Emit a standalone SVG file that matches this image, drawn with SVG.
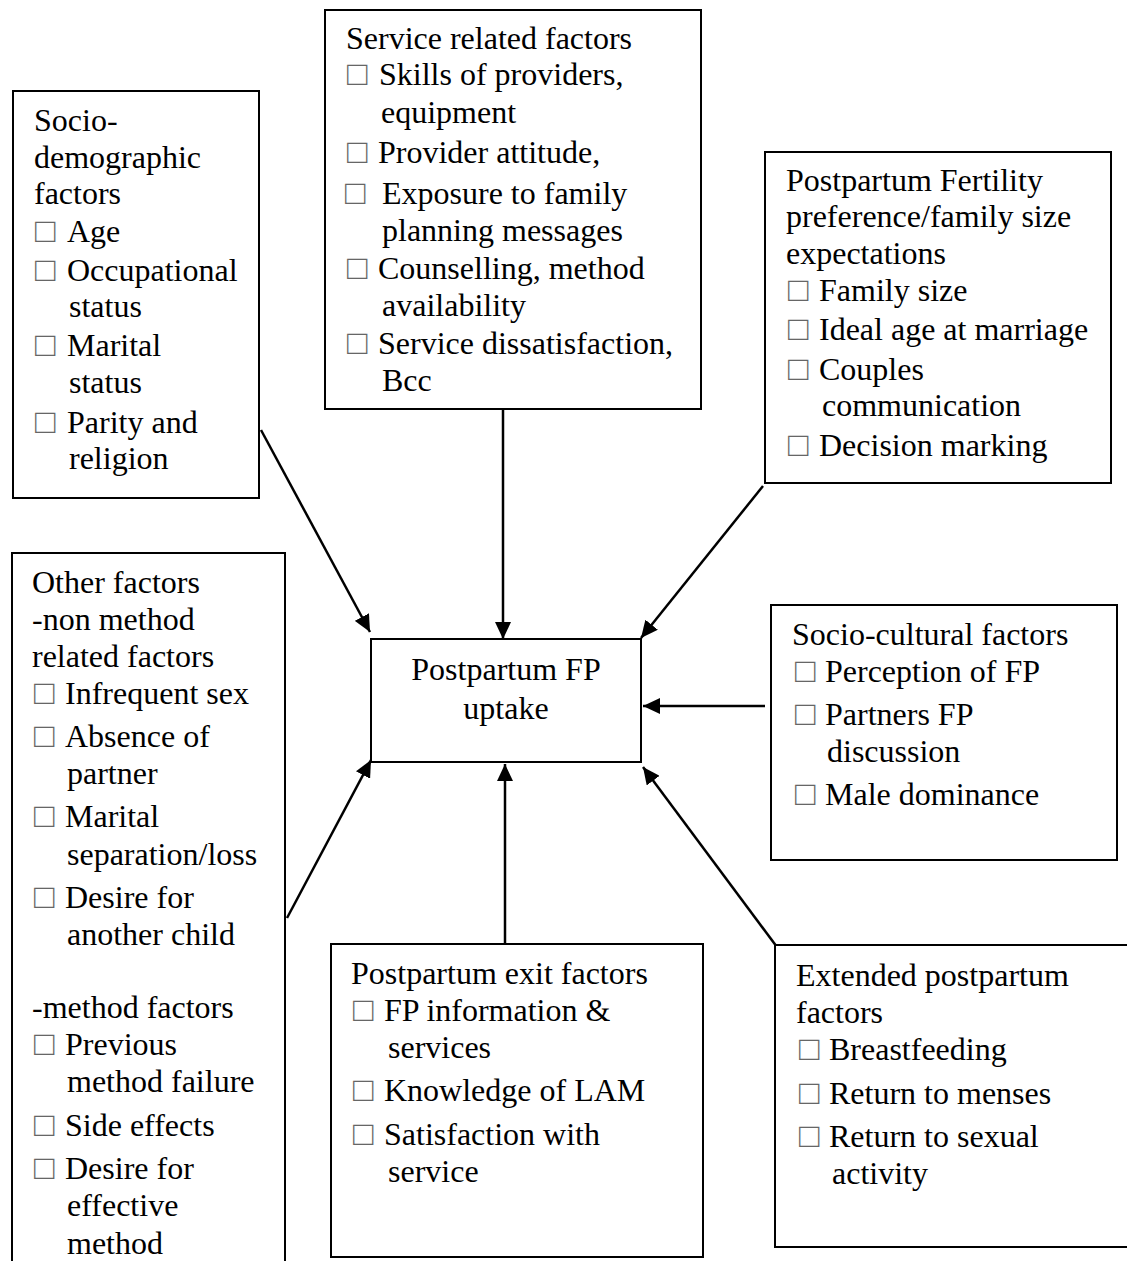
<svg xmlns="http://www.w3.org/2000/svg" width="1127" height="1261" viewBox="0 0 1127 1261">
<style>
.box{fill:#fff;stroke:#000;stroke-width:2}
.t{font-family:"Liberation Serif","Times New Roman",serif;font-size:32px;fill:#000}
.b{font-family:"Liberation Serif","DejaVu Sans",serif;font-size:34px;fill:#666}
.c{stroke:#000;stroke-width:2.5;fill:none;marker-end:url(#ah)}
</style>
<defs>
<marker id="ah" markerUnits="userSpaceOnUse" markerWidth="18" markerHeight="16" refX="17" refY="8" orient="auto">
<path d="M0,0 L17,8 L0,16 z" fill="#000"/>
</marker>
</defs>
<rect width="1127" height="1261" fill="#fff"/>

<g id="connectors">
<line class="c" x1="261" y1="430" x2="370" y2="632"/>
<line class="c" x1="503" y1="409" x2="503" y2="639"/>
<line class="c" x1="763" y1="486" x2="641" y2="638"/>
<line class="c" x1="765" y1="706" x2="643" y2="706"/>
<line class="c" x1="287" y1="918" x2="371" y2="760"/>
<line class="c" x1="505" y1="943" x2="505" y2="764"/>
<line class="c" x1="777" y1="947" x2="643" y2="767"/>
</g>

<g id="socio-demographic">
<rect class="box" x="13" y="91" width="246" height="407"/>
<text class="t" x="34" y="131">Socio-</text>
<text class="t" x="34" y="168">demographic</text>
<text class="t" x="34" y="204">factors</text>
<text class="b" x="35" y="242">□</text><text class="t" x="67" y="242">Age</text>
<text class="b" x="35" y="281">□</text><text class="t" x="67" y="281">Occupational</text>
<text class="t" x="69" y="317">status</text>
<text class="b" x="35" y="356">□</text><text class="t" x="67" y="356">Marital</text>
<text class="t" x="69" y="393">status</text>
<text class="b" x="35" y="433">□</text><text class="t" x="67" y="433">Parity and</text>
<text class="t" x="69" y="469">religion</text>
</g>

<g id="service-related">
<rect class="box" x="325" y="10" width="376" height="399"/>
<text class="t" x="346" y="49">Service related factors</text>
<text class="b" x="347" y="85">□</text><text class="t" x="379" y="85">Skills of providers,</text>
<text class="t" x="381" y="123">equipment</text>
<text class="b" x="347" y="163">□</text><text class="t" x="378" y="163">Provider attitude,</text>
<text class="b" x="345" y="204">□</text><text class="t" x="382" y="204">Exposure to family</text>
<text class="t" x="382" y="241">planning messages</text>
<text class="b" x="347" y="279">□</text><text class="t" x="378" y="279">Counselling, method</text>
<text class="t" x="382" y="316">availability</text>
<text class="b" x="347" y="354">□</text><text class="t" x="378" y="354">Service dissatisfaction,</text>
<text class="t" x="382" y="391">Bcc</text>
</g>

<g id="fertility-preference">
<rect class="box" x="765" y="152" width="346" height="331"/>
<text class="t" x="786" y="191">Postpartum Fertility</text>
<text class="t" x="786" y="227">preference/family size</text>
<text class="t" x="786" y="264">expectations</text>
<text class="b" x="788" y="301">□</text><text class="t" x="819" y="301">Family size</text>
<text class="b" x="788" y="340">□</text><text class="t" x="819" y="340">Ideal age at marriage</text>
<text class="b" x="788" y="380">□</text><text class="t" x="819" y="380">Couples</text>
<text class="t" x="822" y="416">communication</text>
<text class="b" x="788" y="456">□</text><text class="t" x="819" y="456">Decision marking</text>
</g>

<g id="other-factors">
<rect class="box" x="12" y="553" width="273" height="720"/>
<text class="t" x="32" y="593">Other factors</text>
<text class="t" x="32" y="630">-non method</text>
<text class="t" x="32" y="667">related factors</text>
<text class="b" x="34" y="704">□</text><text class="t" x="65" y="704">Infrequent sex</text>
<text class="b" x="34" y="747">□</text><text class="t" x="65" y="747">Absence of</text>
<text class="t" x="67" y="784">partner</text>
<text class="b" x="34" y="827">□</text><text class="t" x="65" y="827">Marital</text>
<text class="t" x="67" y="865">separation/loss</text>
<text class="b" x="34" y="908">□</text><text class="t" x="65" y="908">Desire for</text>
<text class="t" x="67" y="945">another child</text>
<text class="t" x="32" y="1018">-method factors</text>
<text class="b" x="34" y="1055">□</text><text class="t" x="65" y="1055">Previous</text>
<text class="t" x="67" y="1092">method failure</text>
<text class="b" x="34" y="1136">□</text><text class="t" x="65" y="1136">Side effects</text>
<text class="b" x="34" y="1179">□</text><text class="t" x="65" y="1179">Desire for</text>
<text class="t" x="67" y="1216">effective</text>
<text class="t" x="67" y="1254">method</text>
</g>

<g id="ppfp-uptake">
<rect class="box" x="371" y="639" width="270" height="123"/>
<text class="t" x="506" y="680" text-anchor="middle">Postpartum FP</text>
<text class="t" x="506" y="719" text-anchor="middle">uptake</text>
</g>

<g id="socio-cultural">
<rect class="box" x="771" y="605" width="346" height="255"/>
<text class="t" x="792" y="645">Socio-cultural factors</text>
<text class="b" x="795" y="682">□</text><text class="t" x="825" y="682">Perception of FP</text>
<text class="b" x="795" y="725">□</text><text class="t" x="825" y="725">Partners FP</text>
<text class="t" x="827" y="762">discussion</text>
<text class="b" x="795" y="805">□</text><text class="t" x="825" y="805">Male dominance</text>
</g>

<g id="exit-factors">
<rect class="box" x="331" y="944" width="372" height="313"/>
<text class="t" x="351" y="984">Postpartum exit factors</text>
<text class="b" x="353" y="1021">□</text><text class="t" x="384" y="1021">FP information &amp;</text>
<text class="t" x="388" y="1058">services</text>
<text class="b" x="353" y="1101">□</text><text class="t" x="384" y="1101">Knowledge of LAM</text>
<text class="b" x="353" y="1145">□</text><text class="t" x="384" y="1145">Satisfaction with</text>
<text class="t" x="388" y="1182">service</text>
</g>

<g id="extended-postpartum">
<rect class="box" x="775" y="945" width="360" height="302"/>
<text class="t" x="796" y="986">Extended postpartum</text>
<text class="t" x="796" y="1023">factors</text>
<text class="b" x="799" y="1060">□</text><text class="t" x="829" y="1060">Breastfeeding</text>
<text class="b" x="799" y="1104">□</text><text class="t" x="829" y="1104">Return to menses</text>
<text class="b" x="799" y="1147">□</text><text class="t" x="829" y="1147">Return to sexual</text>
<text class="t" x="832" y="1184">activity</text>
</g>
</svg>
